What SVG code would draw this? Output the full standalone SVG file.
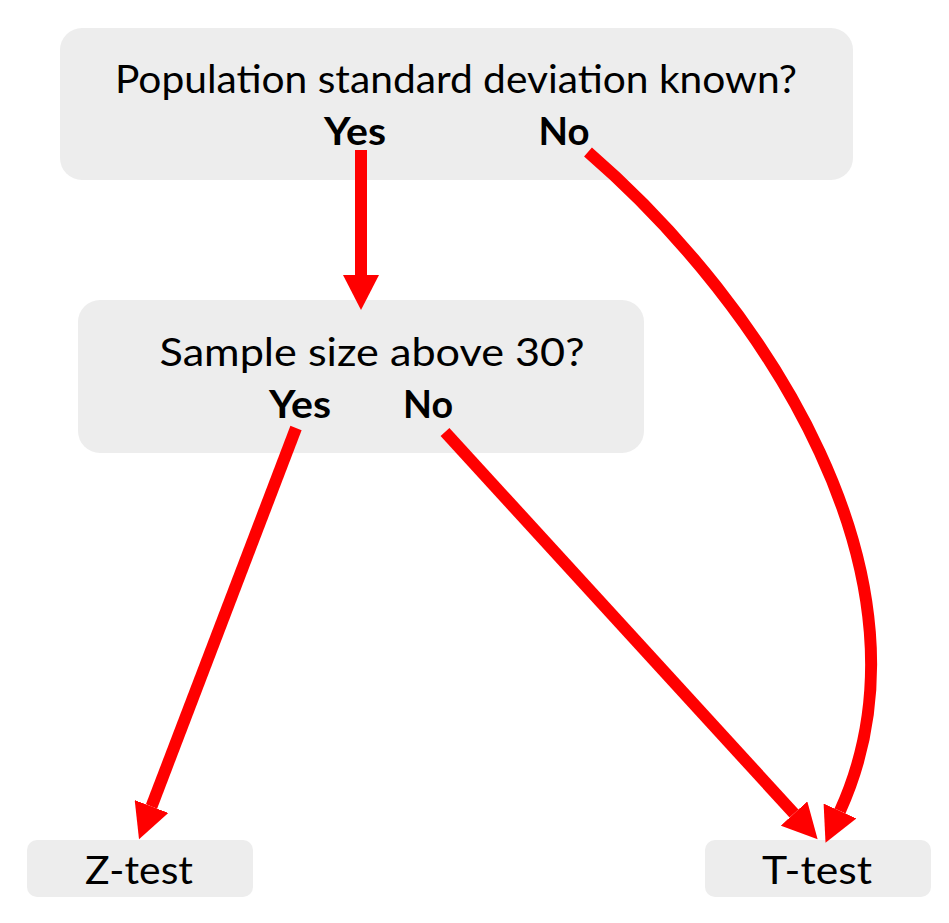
<svg xmlns="http://www.w3.org/2000/svg" width="949" height="923" viewBox="0 0 949 923">
<style>
.box{fill:#EDEDED;}
.t{font-family:Lato,"Open Sans","Liberation Sans",sans-serif;font-size:38px;fill:#000;text-anchor:middle;}
.b{font-weight:bold;}
.c{fill:none;stroke:#FF0000;stroke-width:12;}
</style>
<defs>
<marker id="ah" markerUnits="userSpaceOnUse" markerWidth="36" markerHeight="36" viewBox="0 0 36 36" refX="0" refY="18" orient="auto">
<path d="M0,0 L35,18 L0,36 z" fill="#FF0000"/>
</marker>
</defs>
<rect width="949" height="923" fill="#FFFFFF"/>
<g id="q1">
<rect class="box" x="60" y="28" width="793" height="152" rx="22"/>
<text class="t" x="456" y="93" textLength="682" lengthAdjust="spacingAndGlyphs">Population standard deviation known?</text>
<text class="t b" x="355" y="145" textLength="62" lengthAdjust="spacingAndGlyphs">Yes</text>
<text class="t b" x="564" y="145" textLength="51" lengthAdjust="spacingAndGlyphs">No</text>
</g>
<g id="q2">
<rect class="box" x="78" y="300" width="566" height="153" rx="22"/>
<text class="t" x="372" y="366" textLength="425" lengthAdjust="spacingAndGlyphs">Sample size above 30?</text>
<text class="t b" x="300" y="418" textLength="62" lengthAdjust="spacingAndGlyphs">Yes</text>
<text class="t b" x="428" y="418" textLength="50" lengthAdjust="spacingAndGlyphs">No</text>
</g>
<g id="ztest">
<rect class="box" x="27" y="840" width="226" height="57" rx="10"/>
<text class="t" x="139" y="884" textLength="108" lengthAdjust="spacingAndGlyphs">Z-test</text>
</g>
<g id="ttest">
<rect class="box" x="705" y="840" width="226" height="57" rx="10"/>
<text class="t" x="817" y="884" textLength="110" lengthAdjust="spacingAndGlyphs">T-test</text>
</g>
<g id="connectors">
<path class="c" d="M361,150 L361,275" marker-end="url(#ah)"/>
<path class="c" d="M296,428 L151.5,806.5" marker-end="url(#ah)"/>
<path class="c" d="M445,432 L794,813.5" marker-end="url(#ah)"/>
<path class="c" d="M588,152 C765,305 945,580 840,811" marker-end="url(#ah)"/>
</g>
</svg>
